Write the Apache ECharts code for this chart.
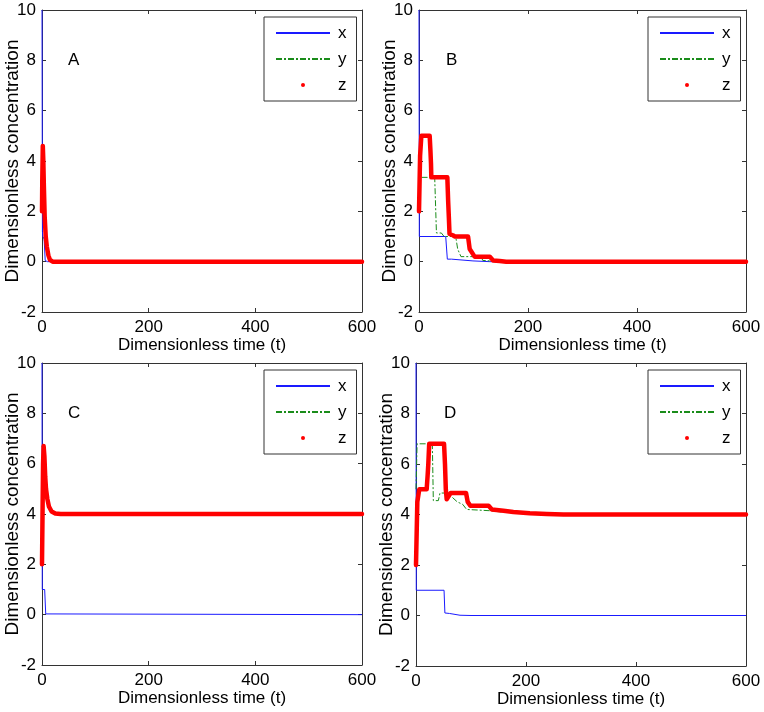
<!DOCTYPE html>
<html>
<head>
<meta charset="utf-8">
<script src="https://cdn.jsdelivr.net/npm/echarts@6/dist/echarts.min.js"></script>
<style>html,body{margin:0;padding:0;background:#fff}#c{width:764px;height:712px}</style>
</head>
<body>
<div id="c"></div>
<script>
// ---- data: [t, value] pairs ----
const panelLabels = ['A', 'B', 'C', 'D'];
const xTicks = [0, 200, 400, 600];
const yTicks = [-2, 0, 2, 4, 6, 8, 10];

// Panel A
const A_x = [[0,10],[0.8,1.2],[1.5,1],[4,0.9],[6,0.05],[10,0],[600,0]];
const A_y = [[0,2],[1,4.3],[3,3.2],[6,1.3],[10,0.4],[15,0.02],[600,0]];
const A_z = [[0,2],[0.5,3.2],[1.5,4.6],[2.5,4.0],[3.5,3.0],[5,1.8],[7,1.0],[9,0.6],[12,0.25],[15,0.07],[20,0],[600,0]];

// Panel B
const B_x = [[0,10],[0.6,1],[49,1],[52,0.1],[59.6,0.1],[62,0.04],[99,0.03],[102,0.01],[130,0],[600,0]];
const B_y = [[0,2],[1,3.35],[28.8,3.35],[32,1.14],[41,1.14],[46,1.0],[67.3,1.0],[71,0.5],[77,0.2],[114,0.2],[117,0.05],[130,0.03],[140,0],[600,0]];
const B_z = [[0,2],[2,4.2],[4.3,5],[19.6,5],[21,4.4],[22,3.9],[22.6,3.35],[52,3.35],[53.5,2.4],[54.8,1.75],[56,1.1],[62,1.05],[66,1.0],[90,1.0],[93,0.5],[96,0.4],[102,0.2],[130,0.2],[136,0.05],[148,0.03],[160,0],[600,0]];

// Panel C
const C_x = [[0,10],[0.5,1],[5,1],[7,0.03],[10,0],[600,0]];
const C_y = [[0,6.7],[3,6.6],[6,5.4],[10,4.5],[15,4.2],[25,4.02],[35,4],[600,4]];
const C_z = [[0,2],[1,4],[2,6],[3,6.7],[4.5,6.3],[6,5.5],[7.5,5.0],[10,4.6],[13,4.3],[18,4.1],[25,4.02],[35,4.0],[600,4.0]];

// Panel D
const D_x = [[0,10],[0.5,1],[51,1],[52.5,0.1],[61,0.08],[63,0.03],[80,0.01],[100,0],[600,0]];
const D_y = [[0,5],[2,6.8],[29.7,6.8],[31.5,4.55],[40.6,4.55],[43.6,4.85],[52.7,4.85],[56,4.8],[65,4.7],[75,4.5],[85,4.4],[92,4.2],[134,4.15],[155,4.1],[190,4.05],[240,4.0],[600,4.0]];
const D_z = [[0,2],[2.4,4.5],[6,5],[19.4,5],[21,5.5],[22.4,6.0],[24,6.8],[51,6.8],[52.7,6.0],[54.2,5.0],[55.8,4.6],[58.8,4.55],[63,4.85],[91,4.85],[94,4.5],[98.8,4.35],[132,4.35],[138,4.2],[159,4.15],[177,4.1],[207,4.05],[238,4.02],[268,4.0],[600,4.0]];

const panelData = [[A_x, A_y, A_z], [B_x, B_y, B_z], [C_x, C_y, C_z], [D_x, D_y, D_z]];

// ---- layout ----
const grids = [
  {left: 42, top: 10, width: 320, height: 302},
  {left: 419, top: 10, width: 327, height: 302},
  {left: 42, top: 363, width: 320, height: 302},
  {left: 416, top: 363, width: 330, height: 303}
];
const legendPos = [[264, 17], [648, 17], [264, 370], [648, 370]];
const letterPos = [[74, 61], [452, 61], [74, 414], [450, 414]];

const FONT = 'Liberation Sans, Arial, sans-serif';
const AX = '#333';

const xAxes = [], yAxes = [], series = [], legends = [], graphics = [];
grids.forEach((g, i) => {
  xAxes.push({
    gridIndex: i, type: 'value', min: xTicks[0], max: xTicks[xTicks.length - 1], interval: 200,
    position: 'bottom',
    axisLine: {show: true, onZero: false, lineStyle: {color: AX, width: 1}},
    axisTick: {show: true, inside: true, length: 4, lineStyle: {color: AX}},
    axisLabel: {show: true, color: '#000', fontSize: 17, fontFamily: FONT, margin: 7},
    splitLine: {show: false},
    name: 'Dimensionless time (t)', nameLocation: 'middle', nameGap: 25, nameMoveOverlap: false,
    nameTextStyle: {color: '#000', fontSize: 17, fontFamily: FONT}
  });
  xAxes.push({
    gridIndex: i, type: 'value', min: 0, max: 600, interval: 200, position: 'top',
    axisLine: {show: true, onZero: false, lineStyle: {color: AX, width: 1}},
    axisTick: {show: true, inside: true, length: 4, lineStyle: {color: AX}},
    axisLabel: {show: false}, splitLine: {show: false}
  });
  yAxes.push({
    gridIndex: i, type: 'value', min: yTicks[0], max: yTicks[yTicks.length - 1], interval: 2,
    position: 'left',
    axisLine: {show: true, onZero: false, lineStyle: {color: AX, width: 1}},
    axisTick: {show: true, inside: true, length: 4, lineStyle: {color: AX}},
    axisLabel: {show: true, color: '#000', fontSize: 17, fontFamily: FONT, margin: 6},
    splitLine: {show: false},
    name: 'Dimensionless concentration', nameLocation: 'middle', nameGap: 20, nameMoveOverlap: false,
    nameTextStyle: {color: '#000', fontSize: 19, fontFamily: FONT}
  });
  yAxes.push({
    gridIndex: i, type: 'value', min: -2, max: 10, interval: 2, position: 'right',
    axisLine: {show: true, onZero: false, lineStyle: {color: AX, width: 1}},
    axisTick: {show: true, inside: true, length: 4, lineStyle: {color: AX}},
    axisLabel: {show: false}, splitLine: {show: false}
  });

  const [dx, dy, dz] = panelData[i];
  series.push({
    name: 'x', type: 'line', xAxisIndex: 2 * i, yAxisIndex: 2 * i, data: dx,
    symbol: 'none', color: '#0000ff',
    lineStyle: {color: '#1a1aff', width: 1}, z: 2
  });
  series.push({
    name: 'y', type: 'line', xAxisIndex: 2 * i, yAxisIndex: 2 * i, data: dy,
    symbol: 'none', color: '#008000',
    lineStyle: {color: '#1a8c1a', width: 1, type: [6, 2, 2, 2]}, z: 3
  });
  series.push({
    name: 'z', type: 'line', xAxisIndex: 2 * i, yAxisIndex: 2 * i, data: dz,
    symbol: 'circle', showSymbol: false, color: '#ff0000',
    lineStyle: {color: '#ff0000', width: 4.5, join: 'round', cap: 'round'}, z: 4
  });

  legends.push({
    left: legendPos[i][0], top: legendPos[i][1], orient: 'vertical',
    backgroundColor: '#fff', borderColor: AX, borderWidth: 1, borderRadius: 0,
    padding: [7, 10, 7, 11], itemWidth: 54, itemHeight: 4, itemGap: 8,
    selectedMode: false,
    textStyle: {color: '#000', fontSize: 17, fontFamily: FONT, lineHeight: 18, padding: [0, 0, 0, 3]},
    data: [
      {name: 'x', itemStyle: {opacity: 0}},
      {name: 'y', itemStyle: {opacity: 0}},
      {name: 'z', icon: 'circle'}
    ]
  });

  graphics.push({
    type: 'text', left: letterPos[i][0] - 6, top: letterPos[i][1] - 9,
    style: {text: panelLabels[i], fill: '#000', font: '17px ' + FONT}
  });
});

const chart = echarts.init(document.getElementById('c'), null, {renderer: 'canvas'});
chart.setOption({
  backgroundColor: '#fff',
  animation: false,
  grid: grids.map(g => Object.assign({outerBoundsMode: 'none'}, g)),
  xAxis: xAxes,
  yAxis: yAxes,
  legend: legends,
  series: series,
  graphic: graphics
});
</script>
</body>
</html>
